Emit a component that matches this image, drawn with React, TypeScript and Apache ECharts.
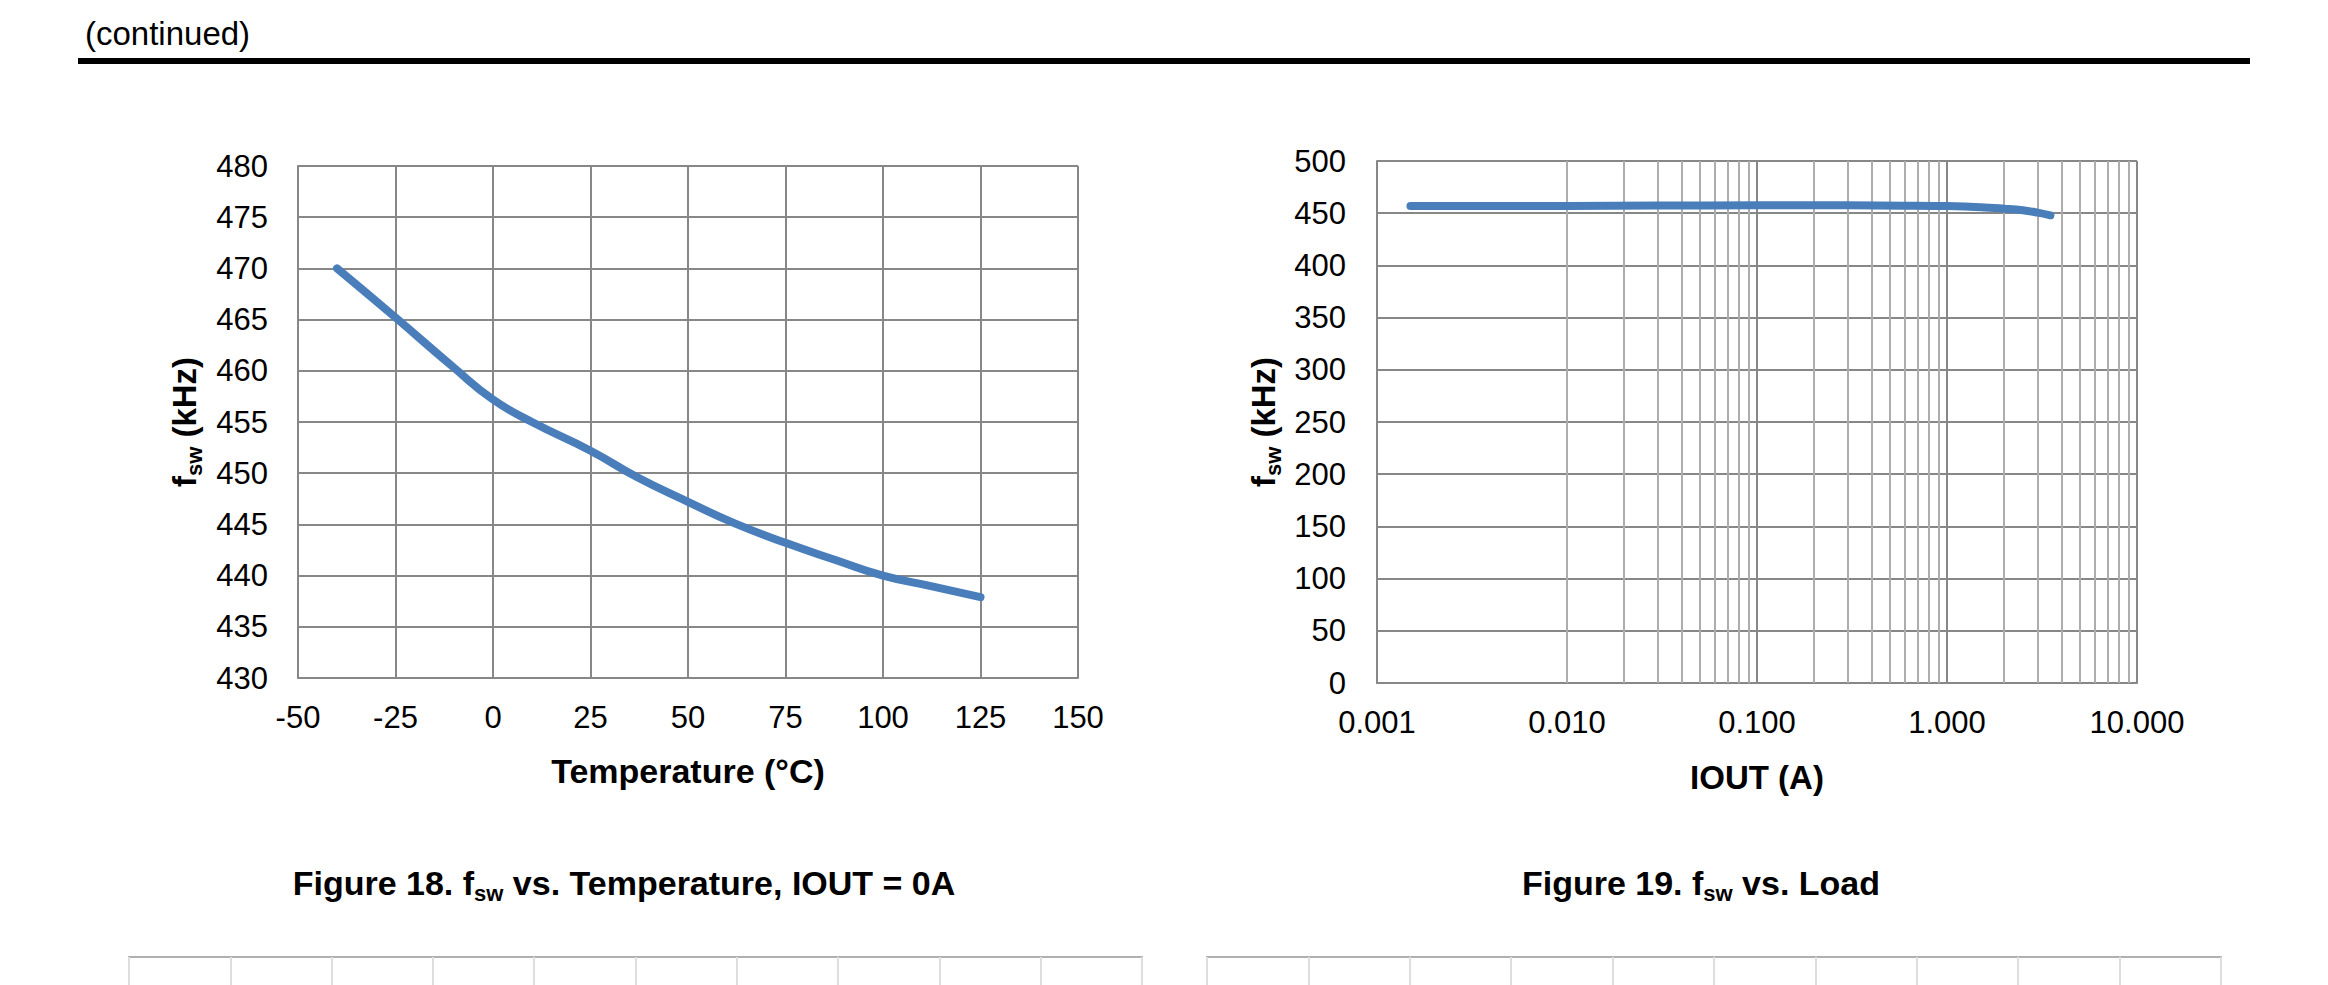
import React, { useEffect, useRef } from "react";
import * as echarts from "echarts";

// ---- Data ----
const tempC = [-40, -25, -10, 0, 10, 25, 37, 50, 62, 75, 88, 100, 112, 125];
const fswTemp = [470, 465.2, 460.3, 457.2, 455, 452.2, 449.6, 447.2, 445.1, 443.2, 441.5, 440, 439, 437.9];

const ioutA = [0.0015, 0.003, 0.01, 0.03, 0.1, 0.3, 0.6, 1, 1.5, 2, 2.5, 3, 3.5];
const fswLoad = [457, 457, 457, 457.3, 457.5, 457.5, 457.2, 456.8, 455.8, 454.3, 452.8, 450.5, 448];

const tempTicks = { min: -50, max: 150, step: 25 };
const fswTempTicks = { min: 430, max: 480, step: 5 };
const fswLoadTicks = { min: 0, max: 500, step: 50 };
const ioutRange = { min: 0.001, max: 10 };
const logMinorMultipliers = [2, 3, 4, 5, 6, 7, 8, 9];
const logDecades = [0.001, 0.01, 0.1, 1];

const FONT = "'Liberation Sans', Arial, Helvetica, sans-serif";
const GRID_DARK = "#878787";
const GRID_LIGHT = "#adadad";
const LINE_BLUE = "#4a7ebb";

export default function App() {
  const ref = useRef<HTMLDivElement>(null);

  useEffect(() => {
    if (!ref.current) return;
    const chart = echarts.init(ref.current, undefined, { renderer: "svg" });

    const minorValues: number[] = [];
    logDecades.forEach((d) => logMinorMultipliers.forEach((m) => minorValues.push(+(d * m).toPrecision(3))));

    const tickLabel = { color: "#000", fontSize: 31, fontFamily: FONT };
    const darkLine = { color: GRID_DARK, width: 2 };

    const boldRich = (size: number) => ({
      b: { fontSize: size, fontWeight: "bold", fontFamily: FONT, fill: "#000", lineHeight: 42 },
      s: { fontSize: 22, fontWeight: "bold", fontFamily: FONT, fill: "#000", lineHeight: 22, verticalAlign: "bottom" },
    });

    const option: any = {
      animation: false,
      backgroundColor: "#ffffff",
      textStyle: { fontFamily: FONT },
      grid: [
        { left: 298, top: 166, width: 780, height: 512 },
        { left: 1377, top: 161, width: 760, height: 522 },
        { left: 129, top: 957, width: 1013, height: 200, show: true, borderColor: "#b0b0b0", borderWidth: 2 },
        { left: 1207, top: 957, width: 1014, height: 200, show: true, borderColor: "#b0b0b0", borderWidth: 2 },
      ],
      xAxis: [
        {
          gridIndex: 0,
          type: "value",
          min: tempTicks.min,
          max: tempTicks.max,
          interval: tempTicks.step,
          axisLine: { show: true, onZero: false, lineStyle: darkLine },
          axisTick: { show: false },
          axisLabel: { ...tickLabel, margin: 24 },
          splitLine: { show: true, lineStyle: darkLine },
        },
        {
          gridIndex: 1,
          type: "log",
          logBase: 10,
          min: ioutRange.min,
          max: ioutRange.max,
          axisLine: { show: true, onZero: false, lineStyle: darkLine },
          axisTick: { show: false },
          axisLabel: { ...tickLabel, margin: 24, formatter: (v: number) => Number(v).toFixed(3) },
          splitLine: { show: true, lineStyle: darkLine },
        },
        {
          gridIndex: 2,
          type: "value",
          min: 0,
          max: 10,
          interval: 1,
          axisLine: { show: false },
          axisTick: { show: false },
          axisLabel: { show: false },
          splitLine: { show: true, lineStyle: { color: "#dedede", width: 2 } },
        },
        {
          gridIndex: 3,
          type: "value",
          min: 0,
          max: 10,
          interval: 1,
          axisLine: { show: false },
          axisTick: { show: false },
          axisLabel: { show: false },
          splitLine: { show: true, lineStyle: { color: "#dedede", width: 2 } },
        },
      ],
      yAxis: [
        {
          gridIndex: 0,
          type: "value",
          min: fswTempTicks.min,
          max: fswTempTicks.max,
          interval: fswTempTicks.step,
          axisLine: { show: true, onZero: false, lineStyle: darkLine },
          axisTick: { show: false },
          axisLabel: { ...tickLabel, margin: 30 },
          splitLine: { show: true, lineStyle: darkLine },
        },
        {
          gridIndex: 1,
          type: "value",
          min: fswLoadTicks.min,
          max: fswLoadTicks.max,
          interval: fswLoadTicks.step,
          axisLine: { show: true, onZero: false, lineStyle: darkLine },
          axisTick: { show: false },
          axisLabel: { ...tickLabel, margin: 31 },
          splitLine: { show: true, lineStyle: darkLine },
        },
        { gridIndex: 2, type: "value", min: 0, max: 1, show: false, splitLine: { show: false } },
        { gridIndex: 3, type: "value", min: 0, max: 1, show: false, splitLine: { show: false } },
      ],
      series: [
        {
          type: "line",
          xAxisIndex: 0,
          yAxisIndex: 0,
          z: 10,
          data: tempC.map((t, i) => [t, fswTemp[i]]),
          smooth: 0.5,
          showSymbol: false,
          silent: true,
          lineStyle: { color: LINE_BLUE, width: 8, cap: "round", join: "round" },
        },
        {
          type: "line",
          xAxisIndex: 1,
          yAxisIndex: 1,
          z: 10,
          data: ioutA.map((a, i) => [a, fswLoad[i]]),
          smooth: 0.4,
          showSymbol: false,
          silent: true,
          lineStyle: { color: LINE_BLUE, width: 8, cap: "round", join: "round" },
        },
        {
          type: "line",
          xAxisIndex: 1,
          yAxisIndex: 1,
          z: 1,
          data: [],
          silent: true,
          markLine: {
            silent: true,
            z: 1,
            symbol: ["none", "none"],
            label: { show: false },
            emphasis: { disabled: true },
            lineStyle: { color: GRID_LIGHT, width: 2, type: "solid" },
            data: minorValues.map((v) => ({ xAxis: v })),
          },
        },
      ],
      graphic: [
        {
          type: "text",
          x: 85,
          y: 33,
          silent: true,
          style: { text: "(continued)", fontSize: 33, fontFamily: FONT, fill: "#000", align: "left", verticalAlign: "middle" },
        },
        { type: "rect", silent: true, shape: { x: 78, y: 58, width: 2172, height: 6 }, style: { fill: "#000" } },
        {
          type: "text",
          x: 184,
          y: 422,
          rotation: Math.PI / 2,
          silent: true,
          style: { text: "{b|f}{s|sw}{b| (kHz)}", rich: boldRich(33), align: "center", verticalAlign: "middle" },
        },
        {
          type: "text",
          x: 1263,
          y: 422,
          rotation: Math.PI / 2,
          silent: true,
          style: { text: "{b|f}{s|sw}{b| (kHz)}", rich: boldRich(33), align: "center", verticalAlign: "middle" },
        },
        {
          type: "text",
          x: 688,
          y: 771,
          silent: true,
          style: { text: "Temperature (°C)", fontSize: 34, fontWeight: "bold", fontFamily: FONT, fill: "#000", align: "center", verticalAlign: "middle" },
        },
        {
          type: "text",
          x: 1757,
          y: 777,
          silent: true,
          style: { text: "IOUT (A)", fontSize: 33, fontWeight: "bold", fontFamily: FONT, fill: "#000", align: "center", verticalAlign: "middle" },
        },
        {
          type: "text",
          x: 624,
          y: 883,
          silent: true,
          style: { text: "{b|Figure 18. f}{s|sw}{b| vs. Temperature, IOUT = 0A}", rich: boldRich(34), align: "center", verticalAlign: "middle" },
        },
        {
          type: "text",
          x: 1701,
          y: 883,
          silent: true,
          style: { text: "{b|Figure 19. f}{s|sw}{b| vs. Load}", rich: boldRich(34), align: "center", verticalAlign: "middle" },
        },
      ],
    };

    chart.setOption(option);
    return () => chart.dispose();
  }, []);

  return (
    <div
      ref={ref}
      style={{ position: "absolute", left: 0, top: 0, width: 2328, height: 985, background: "#fff" }}
    />
  );
}
